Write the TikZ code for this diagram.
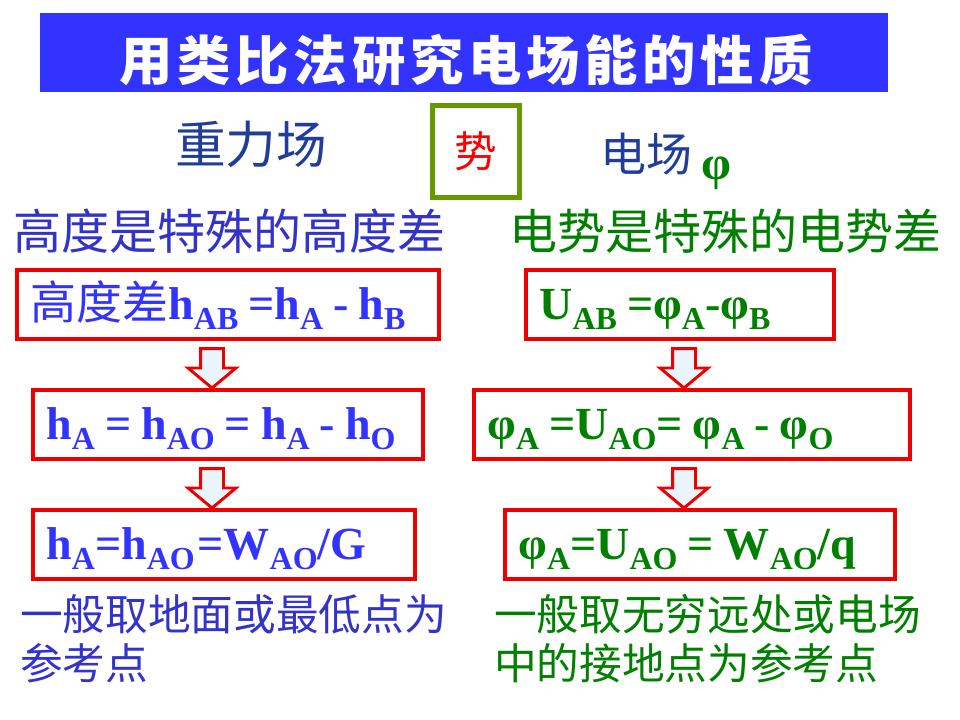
\documentclass[tikz,border=0pt]{standalone}
\usepackage{fontspec}
\setmainfont{Liberation Serif}
\newfontfamily\cjk{Noto Sans CJK SC}
\usetikzlibrary{positioning,calc}

\definecolor{titleblue}{RGB}{51,51,255}
\definecolor{boxred}{RGB}{238,0,0}
\definecolor{olivegreen}{RGB}{102,153,0}
\definecolor{darkblue}{RGB}{31,61,153}
\definecolor{headblue}{RGB}{51,51,204}
\definecolor{headgreen}{RGB}{0,128,0}
\definecolor{boxblue}{RGB}{51,51,255}
\definecolor{boxgreen}{RGB}{0,128,0}
\definecolor{arrowfill}{RGB}{234,244,252}

% lowered index and gap
\newcommand{\lo}[1]{\raisebox{-7.5pt}{\fontsize{24}{24}\selectfont #1}}
\newcommand{\gap}{\kern7.5pt}

\tikzset{
  eqbox/.style={draw=boxred, line width=3pt, anchor=north west, inner xsep=10pt, inner ysep=0pt,
    minimum height=51.5pt, text height=27pt, text depth=4pt, align=left,
    font=\bfseries\fontsize{34.5}{40}\selectfont},
  downarrow/.style={draw=boxred, fill=arrowfill, line width=2.2pt},
}

\begin{document}
\begin{tikzpicture}[x=0.75pt, y=-0.75pt]
    \useasboundingbox (0,0) rectangle (960,720);

    % Title
    \fill[titleblue] (40,13) rectangle (888,92);
    \node[text=white, font=\cjk\bfseries\fontsize{40}{40}\selectfont\addfontfeature{LetterSpace=9}] (title) at (466,60) {用类比法研究电场能的性质};

    % Fields
    \node[draw=olivegreen, line width=3.75pt, minimum width=65pt, minimum height=69pt, inner sep=0pt,
      text=red, font=\cjk\fontsize{32}{32}\selectfont] (shi) at (476,151.5) {势};
    \node[text=darkblue, font=\cjk\fontsize{38}{38}\selectfont] (gfield) at (251,144) {重力场};
    \node[text=darkblue, font=\cjk\fontsize{34.5}{34.5}\selectfont] (efield) at (646,154) {电场};
    \node[text=headgreen, font=\bfseries\fontsize{36}{36}\selectfont, anchor=base west, inner sep=0pt] (phi) at (701,180) {φ};

    \node[text=headblue, font=\cjk\fontsize{36}{36}\selectfont] (hdiff) at (229,231) {高度是特殊的高度差};
    \node[text=headgreen, font=\cjk\fontsize{36}{36}\selectfont] (udiff) at (725,231) {电势是特殊的电势差};

    % Boxes
    \node[eqbox, text=boxblue, text width=296.5pt] (L1) at (15,268) {{\cjk\mdseries 高度差}h\lo{AB}\gap=h\lo{A}\gap-\gap h\lo{B}};
    \node[eqbox, text=boxblue, text width=272.5pt] (L2) at (31,388) {h\lo{A}\gap=\gap h\lo{AO}\gap=\gap h\lo{A}\gap-\gap h\lo{O}};
    \node[eqbox, text=boxblue, text width=266.5pt] (L3) at (31,508) {h\lo{A}=h\lo{AO}\kern2pt=W\lo{AO}/G};
    \node[eqbox, text=boxgreen, text width=211pt] (R1) at (524,268) {U\lo{AB}\gap=φ\lo{A}-φ\lo{B}};
    \node[eqbox, text=boxgreen, text width=307pt] (R2) at (472,388) {φ\lo{A}\gap=U\lo{AO}=\gap φ\lo{A}\gap-\gap φ\lo{O}};
    \node[eqbox, text=boxgreen, text width=272.5pt] (R3) at (503,508) {φ\lo{A}=U\lo{AO}\gap=\gap W\lo{AO}/q};

    % Arrows
    \coordinate (ax) at (212,0);
    \coordinate (bx) at (684,0);
    \foreach \a/\b/\c in {L1/L2/ax, L2/L3/ax, R1/R2/bx, R2/R3/bx}
      \draw[downarrow] let \p1=(\a.south -| \c), \p2=(\b.north -| \c) in
        (\x1-8.6pt,\y1-6pt) -- (\x1+8.6pt,\y1-6pt) -- (\x1+8.6pt,\y2+15pt) -- (\x1+18pt,\y2+15pt)
        -- (\x1,\y2) -- (\x1-18pt,\y2+15pt) -- (\x1-8.6pt,\y2+15pt) -- cycle;

    % Notes
    \node[anchor=north west, inner sep=0pt, align=left, text=headblue, font=\cjk\fontsize{32}{36.75}\selectfont] (lnote) at (20,594) {一般取地面或最低点为\\参考点};
    \node[anchor=north west, inner sep=0pt, align=left, text=headgreen, font=\cjk\fontsize{32}{36.75}\selectfont] (rnote) at (494,594) {一般取无穷远处或电场\\中的接地点为参考点};
\end{tikzpicture}
\end{document}
